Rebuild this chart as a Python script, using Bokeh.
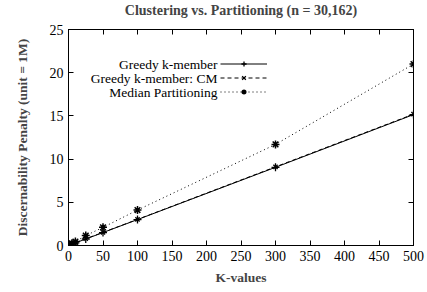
from bokeh.plotting import figure
from bokeh.models import (LinearAxis, Range1d, FixedTicker, Legend, LegendItem, Label,
                          CustomJSTickFormatter)
from bokeh.embed import file_html
from bokeh.resources import INLINE

# ---- data ----
k_values = [2, 5, 10, 25, 50, 100, 300, 500]
greedy = [0.06, 0.15, 0.30, 0.75, 1.50, 3.00, 9.05, 15.15]
greedy_cm = [0.06, 0.16, 0.31, 0.78, 1.52, 3.02, 9.10, 15.20]
median = [0.10, 0.25, 0.45, 1.15, 2.10, 4.10, 11.70, 21.00]
series_names = ["Greedy k-member", "Greedy k-member: CM", "Median Partitioning"]
x_ticks = [0, 50, 100, 150, 200, 250, 300, 350, 400, 450, 500]
y_ticks = [0, 5, 10, 15, 20, 25]

FONT = "'Liberation Serif', 'Times New Roman', serif"

p = figure(width=427, height=292, output_backend="svg", toolbar_location=None,
           x_range=Range1d(0, 500), y_range=Range1d(0, 25),
           min_border_left=68, min_border_right=14, min_border_top=29,
           min_border_bottom=47)

p.title.text = "Clustering vs. Partitioning (n = 30,162)"
p.title.text_font = FONT
p.title.text_font_size = "14px"
p.title.text_font_style = "bold"
p.title.align = "center"
p.title.offset = 0
p.title.standoff = 0
p.title.padding = dict(left=0, right=0, top=0, bottom=12)

p.xgrid.visible = False
p.ygrid.visible = False
p.outline_line_color = "black"
p.outline_line_width = 1
p.background_fill_color = "white"
p.border_fill_color = "white"

for ax in p.xaxis:
    ax.ticker = FixedTicker(ticks=x_ticks)
    ax.axis_label = "K-values"
    ax.axis_label_standoff = 6
for ax in p.yaxis:
    ax.ticker = FixedTicker(ticks=y_ticks)
    ax.axis_label = "Discernability Penalty (unit = 1M)"
    ax.axis_label_standoff = 17

for ax in list(p.xaxis) + list(p.yaxis):
    ax.major_tick_in = 5
    ax.major_tick_out = 0
    ax.minor_tick_in = 0
    ax.minor_tick_out = 0
    ax.major_label_text_font = FONT
    ax.major_label_text_font_size = "14px"
    ax.major_label_text_color = "black"
    ax.axis_label_text_font = FONT
    ax.axis_label_text_font_size = "13.5px"
    ax.axis_label_text_font_style = "bold"
    ax.major_label_standoff = 5
    ax.axis_line_color = "black"

blank = CustomJSTickFormatter(code="return ''")
# mirrored ticks on top and right
top = LinearAxis(ticker=FixedTicker(ticks=x_ticks), major_tick_in=5, major_tick_out=0,
                 minor_tick_in=0, minor_tick_out=0, formatter=blank,
                 major_label_standoff=0, axis_line_color="black")
right = LinearAxis(ticker=FixedTicker(ticks=y_ticks), major_tick_in=5, major_tick_out=0,
                   minor_tick_in=0, minor_tick_out=0, formatter=blank,
                   major_label_standoff=0, axis_line_color="black")
p.add_layout(top, "above")
p.add_layout(right, "right")

r1 = p.line(k_values, greedy, line_color="black", line_width=1)
m1 = p.scatter(k_values, greedy, marker="cross", size=8, line_color="black", line_width=1.3)
r2 = p.line(k_values, greedy_cm, line_color="black", line_width=1, line_dash="4 3")
m2 = p.scatter(k_values, greedy_cm, marker="x", size=6, line_color="black", line_width=1.3)
r3 = p.line(k_values, median, line_color="black", line_width=1, line_dash="1 3")
m3 = p.scatter(k_values, median, marker="asterisk", size=8, line_color="black", line_width=1.5)

legend = Legend(items=[
    LegendItem(label=" ", renderers=[r1, m1]),
    LegendItem(label=" ", renderers=[r2, m2]),
    LegendItem(label=" ", renderers=[r3, m3]),
], location=(152, 147), glyph_width=47, glyph_height=13, spacing=1, padding=0,
   margin=0, label_standoff=0, border_line_color=None, background_fill_alpha=0,
   label_text_font_size="11px", label_width=0, label_height=13)
p.add_layout(legend, "center")

row_y = [181, 167, 153]
for name, yy in zip(series_names, row_y):
    p.add_layout(Label(x=149, y=yy, x_units="screen", y_units="screen", text=name,
                       text_align="right", text_baseline="middle", text_font=FONT,
                       text_font_size="13.5px", text_color="black"))

open("out.html", "w").write(file_html(p, INLINE))
